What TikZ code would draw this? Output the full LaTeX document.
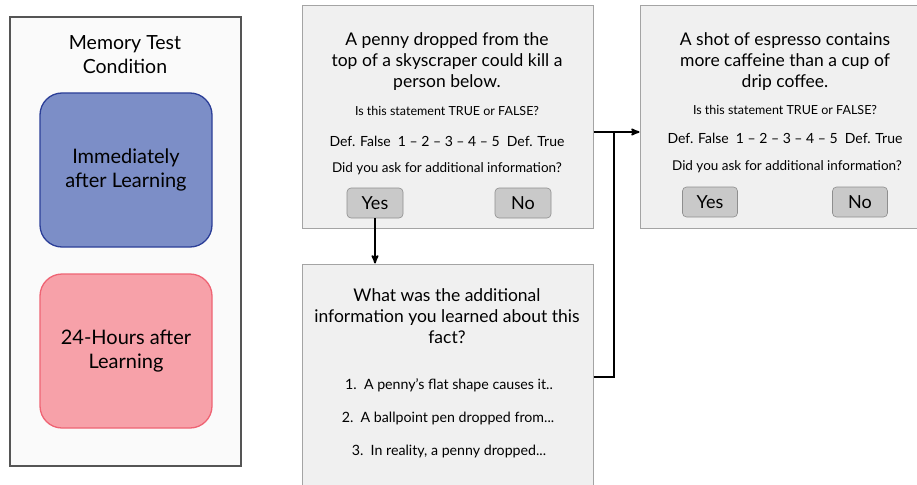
\documentclass[tikz,border=0pt]{standalone}
\usepackage{fontspec}
\setmainfont{Lato}
\usepackage{tikz}
\usetikzlibrary{arrows,positioning}

\definecolor{panelgray}{HTML}{555555}
\definecolor{boxfill}{HTML}{F0F0F0}
\definecolor{boxline}{HTML}{A4A4A4}
\definecolor{btnfill}{HTML}{C9C9C9}
\definecolor{btnline}{HTML}{8E8E8E}
\definecolor{immfill}{HTML}{7C8EC7}
\definecolor{immline}{HTML}{2C3F98}
\definecolor{latefill}{HTML}{F7A1A9}
\definecolor{lateline}{HTML}{EF6474}

\begin{document}
\begin{tikzpicture}[x=1pt, y=-1pt, >=stealth', semithick,
  condbox/.style={rectangle, rounded corners=22pt, minimum width=172pt, minimum height=154pt, line width=1.3pt, align=center, font=\fontsize{20}{24}\selectfont},
  factbox/.style={rectangle, draw=boxline, fill=boxfill, line width=1pt},
  bigtext/.style={align=center, font=\fontsize{17.5}{21}\selectfont},
  smalltext/.style={font=\fontsize{13.5}{15}\selectfont},
  btn/.style={rectangle, rounded corners=4pt, draw=btnline, fill=btnfill, minimum width=56pt, minimum height=30pt, font=\fontsize{18}{19}\selectfont},
  link/.style={line width=1.8pt}]

\useasboundingbox (0,0) rectangle (917,484);

\node[rectangle, draw=panelgray, fill=white!98!black, line width=1.2pt, minimum width=231pt, minimum height=449pt] (panel) at (125.5,241.5) {};
\node[align=center, font=\fontsize{19.5}{24}\selectfont] (memtitle) at (125,55) {Memory Test\\Condition};
\node[condbox, draw=immline, fill=immfill] (immed) at (126,170) {Immediately\\after Learning};
\node[condbox, draw=lateline, fill=latefill] (later) at (126,351) {24-Hours after\\Learning};

% first fact
\node[factbox, minimum width=291pt, minimum height=222pt] (fact1) at (447.5,117) {};
\node[bigtext] (q1) at (447,62) {A penny dropped from the\\top of a skyscraper could kill a\\person below.};
\node[smalltext, font=\fontsize{12.5}{15}\selectfont] (tf1) at (447,111) {Is this statement TRUE or FALSE?};
\node[smalltext, font=\fontsize{14}{15}\selectfont] (scale1) at (447,141) {Def. False \ 1 -- 2 -- 3 -- 4 -- 5 \ Def. True};
\node[smalltext] (ask1) at (447,169) {Did you ask for additional information?};
\node[btn] (yes1) at (375,203) {Yes};
\node[btn] (no1) at (523,203) {No};

% second fact
\node[factbox, minimum width=284pt, minimum height=222pt] (fact2) at (782,117) {};
\node[bigtext] (q2) at (785,62) {A shot of espresso contains\\more caffeine than a cup of\\drip coffee.};
\node[smalltext, font=\fontsize{12.5}{15}\selectfont] (tf2) at (785,110) {Is this statement TRUE or FALSE?};
\node[smalltext, font=\fontsize{14}{15}\selectfont] (scale2) at (785,138) {Def. False \ 1 -- 2 -- 3 -- 4 -- 5 \ Def. True};
\node[smalltext] (ask2) at (787,167) {Did you ask for additional information?};
\node[btn, minimum width=55pt] (yes2) at (710,202) {Yes};
\node[btn, minimum width=55pt] (no2) at (860,202) {No};

% additional information
\node[factbox, minimum width=291pt, minimum height=240pt] (info) at (447.5,384) {};
\node[bigtext] (q3) at (447,316) {What was the additional\\information you learned about this\\fact?};
\node[smalltext, font=\fontsize{14.2}{15}\selectfont] (item1) at (449,385) {1.\ \ A penny's flat shape causes it..};
\node[smalltext, font=\fontsize{14.2}{15}\selectfont] (item2) at (448,418) {2.\ \ A ballpoint pen dropped from...};
\node[smalltext, font=\fontsize{14.2}{15}\selectfont] (item3) at (449,451) {3.\ \ In reality, a penny dropped...};

\coordinate (join) at (614,132);
\coordinate (back) at (614,377);

\draw[link, ->] (yes1.south) -- (yes1.south |- info.north);
\draw[link, ->] (fact1.east |- join) -- (fact2.west |- join);
\draw[link] (info.east |- back) -- (back) -- (join);

\end{tikzpicture}
\end{document}
